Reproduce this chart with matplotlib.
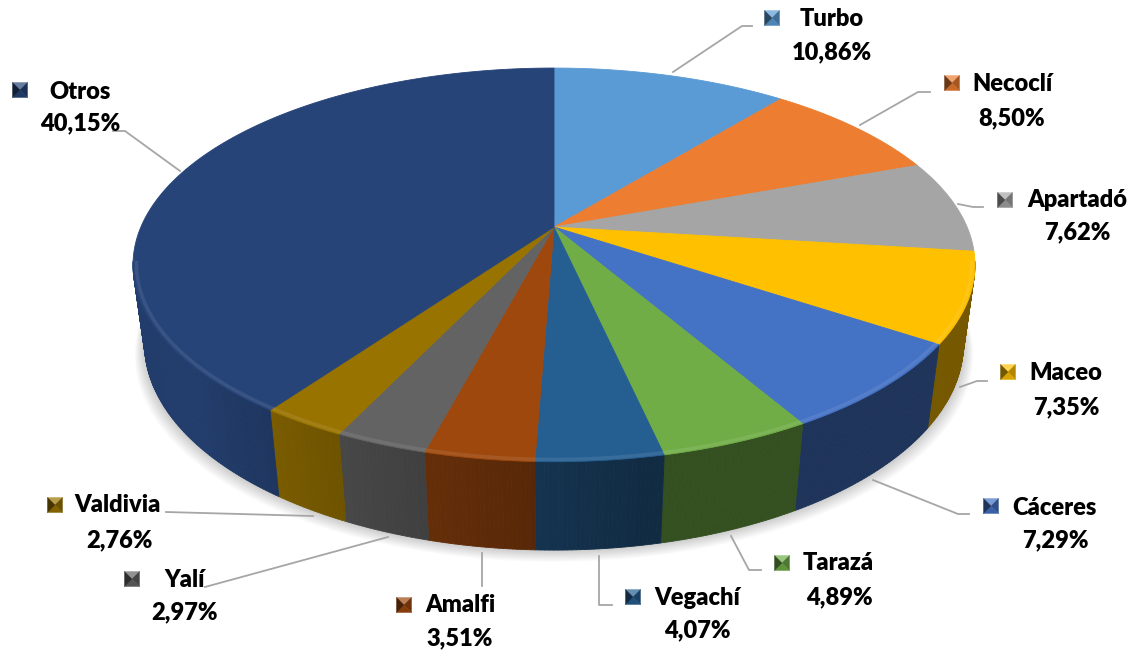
import numpy as np
import matplotlib.pyplot as plt
import matplotlib.colors as mcolors
from matplotlib.collections import PolyCollection

# Data
categories = ['Turbo', 'Necoclí', 'Apartadó', 'Maceo', 'Cáceres', 'Tarazá',
              'Vegachí', 'Amalfi', 'Yalí', 'Valdivia', 'Otros']
shares = [10.86, 8.50, 7.62, 7.35, 7.29, 4.89, 4.07, 3.51, 2.97, 2.76, 40.15]
colors = ['#5B9BD5', '#ED7D31', '#A5A5A5', '#FFC000', '#4472C4', '#70AD47',
          '#255E91', '#9E480E', '#636363', '#997300', '#264478']

# Label layout (pixel positions): key centre, name centre, percent centre
key_pos = [(772, 18), (952, 83), (1005, 200), (1008, 372), (991, 506), (782, 563),
           (633, 597), (404, 605), (132, 579), (55, 505), (20, 90)]
name_pos = [(832, 19), (1012, 84), (1077, 200), (1066, 373), (1054, 508), (838, 563),
            (697, 598), (460, 605), (185, 580), (118, 505), (80, 92)]
pct_pos = [(832, 52), (1012, 118), (1077, 232), (1066, 407), (1055, 540), (839, 597),
           (697, 630), (460, 638), (185, 612), (119, 540), (80, 123)]
leaders = [[(673, 72), (742, 26), (752, 26)],
           [(860, 125), (918, 92), (930, 92)],
           [(958, 204), (973, 207), (983, 207)],
           [(960, 387), (977, 381), (987, 381)],
           [(873, 480), (958, 514), (969, 514)],
           [(731, 536), (749, 570), (761, 570)],
           [(599, 556), (599, 605), (612, 605)],
           [(482, 553), (482, 586)],
           [(388, 537), (205, 587)],
           [(313, 516), (166, 512)],
           [(180, 171), (125, 131), (113, 131)]]

# 3D pie geometry (Excel-like: 30 deg tilt with perspective)
CX, CY = 554, 227
SX, SY = 1859, 1706
ELEV = np.radians(30)
DIST = 4.5
HEIGHT = 0.244


def project(theta, y=0.0, r=1.0):
    X = r * np.sin(theta)
    Z = r * np.cos(theta)
    yc = Z * np.sin(ELEV) + y * np.cos(ELEV)
    zc = Z * np.cos(ELEV) - y * np.sin(ELEV) + DIST
    return CX + SX * X / zc, CY - SY * yc / zc


def shade(c, f):
    rgb = np.array(mcolors.to_rgb(c))
    return tuple(rgb * f)


def lighten(c, f):
    rgb = np.array(mcolors.to_rgb(c))
    return tuple(rgb + (1 - rgb) * f)


def side_factor(deg):
    t = np.clip((deg - 170) / 60, 0, 1)
    return 0.46 + 0.44 * t


fig = plt.figure(figsize=(11.42, 6.52), dpi=100)
ax = fig.add_axes([0, 0, 1, 1])
ax.set_xlim(0, 1142)
ax.set_ylim(652, 0)
ax.axis('off')

frac = np.array(shares) / np.sum(shares)
bounds = np.concatenate([[0], np.cumsum(frac)]) * 2 * np.pi

# soft shadow under the pie
tt = np.linspace(0, 2 * np.pi, 400)
bx, by = project(tt, -HEIGHT)
for k in range(1, 18):
    ax.fill(CX + (bx - CX) * (1 + k / 700), by + k * 0.7,
            color='black', alpha=0.012, lw=0, zorder=1)

# side walls (only the part facing the viewer)
vis_lo, vis_hi = np.radians(100), np.radians(260)
for i, c in enumerate(colors):
    a0 = max(bounds[i], vis_lo)
    a1 = min(bounds[i + 1], vis_hi)
    if a1 <= a0:
        continue
    th = np.linspace(a0, a1, max(3, int(np.degrees(a1 - a0) * 2)))
    tx, ty = project(th, 0.0)
    lx, ly = project(th, -HEIGHT)
    quads, fc = [], []
    for j in range(len(th) - 1):
        quads.append([(tx[j], ty[j]), (tx[j + 1], ty[j + 1]),
                      (lx[j + 1], ly[j + 1]), (lx[j], ly[j])])
        fc.append(shade(c, side_factor(np.degrees(0.5 * (th[j] + th[j + 1])))))
    ax.add_collection(PolyCollection(quads, facecolors=fc, edgecolors=fc,
                                     linewidths=0.6, zorder=2))

# top faces
for i, c in enumerate(colors):
    th = np.linspace(bounds[i], bounds[i + 1], max(4, int(np.degrees(bounds[i + 1] - bounds[i]) * 2)))
    px, py = project(th, 0.0)
    ax.fill(np.concatenate([[CX], px]), np.concatenate([[CY], py]),
            color=c, ec=c, lw=0.6, zorder=3)
    # bevel highlight along the front rim
    a0 = max(bounds[i], vis_lo)
    a1 = min(bounds[i + 1], vis_hi)
    if a1 > a0:
        th = np.linspace(a0, a1, 60)
        hx, hy = project(th, 0.0, 0.992)
        ax.plot(hx, hy, color=lighten(c, 0.2), lw=2.5, alpha=0.45,
                solid_capstyle='butt', zorder=4)

# leader lines
for pts in leaders:
    xs, ys = zip(*pts)
    ax.plot(xs, ys, color='#A6A6A6', lw=1.3, zorder=5)


def draw_key(x, y, c, s=15):
    h = s / 2
    tl, tr, br, bl = (x - h, y - h), (x + h, y - h), (x + h, y + h), (x - h, y + h)
    mid = (x, y)
    tris = [[tl, tr, mid], [tr, br, mid], [br, bl, mid], [bl, tl, mid]]
    fcs = [lighten(c, 0.3), shade(c, 0.7), shade(c, 0.85), shade(c, 0.45)]
    ax.add_collection(PolyCollection(tris, facecolors=fcs, edgecolors=fcs,
                                     linewidths=0.3, zorder=6))


for i, name in enumerate(categories):
    draw_key(*key_pos[i], colors[i])
    ax.text(*name_pos[i], name, ha='center', va='center', fontsize=17,
            fontweight='heavy', family='Lato', color='black', zorder=6)
    pct = f'{shares[i]:.2f}%'.replace('.', ',')
    ax.text(*pct_pos[i], pct, ha='center', va='center', fontsize=17,
            fontweight='heavy', family='Lato', color='black', zorder=6)

fig.savefig('out.png', dpi=100)
